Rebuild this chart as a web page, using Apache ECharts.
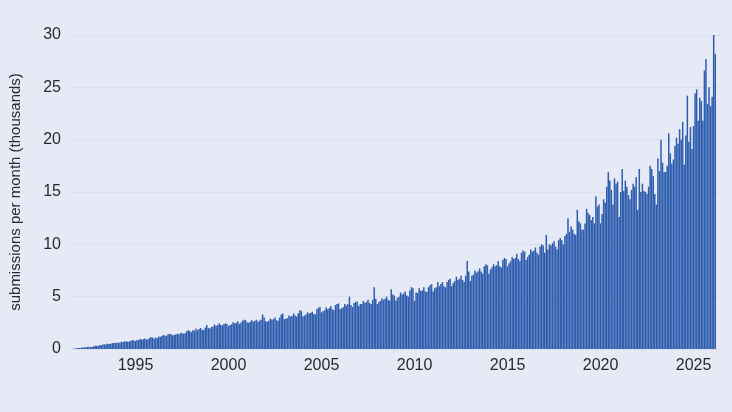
<!DOCTYPE html>
<html>
<head>
<meta charset="utf-8">
<script src="https://cdn.jsdelivr.net/npm/echarts@6/dist/echarts.min.js"></script>
<style>
html,body{margin:0;padding:0;background:#e6e9f6;}
#chart{width:732px;height:412px;}
</style>
</head>
<body>
<div id="chart"></div>
<script>
// Monthly arXiv submissions (thousands), starting Aug 1991
const startYear = 1991, startMonth = 8;
const vals1991_1999 = [
  0.03,0.05,0.08,0.10,0.10,
  0.12,0.14,0.16,0.17,0.20,0.22,0.20,0.19,0.25,0.30,0.30,0.28,
  0.38,0.36,0.42,0.44,0.46,0.50,0.48,0.50,0.55,0.58,0.60,0.57,
  0.62,0.60,0.70,0.66,0.72,0.75,0.70,0.72,0.80,0.85,0.82,0.76,
  0.85,0.84,0.95,0.90,0.93,1.00,0.90,0.92,1.05,1.15,1.10,0.98,
  1.10,1.02,1.20,1.15,1.25,1.35,1.30,1.25,1.40,1.45,1.42,1.30,
  1.35,1.38,1.45,1.40,1.50,1.55,1.45,1.50,1.70,1.78,1.72,1.60,
  1.80,1.75,1.95,1.80,1.90,2.00,1.85,1.80,2.05,2.30,2.00,1.95,
  2.10,2.15,2.35,2.20,2.30,2.45,2.30,2.25,2.40,2.45,2.40,2.20
];
const vals2000_2009 = [
  2.30,2.35,2.55,2.45,2.50,2.65,2.40,2.50,2.70,2.80,2.75,2.55,
  2.50,2.60,2.75,2.60,2.70,2.80,2.60,2.70,2.80,3.30,3.00,2.65,
  2.60,2.70,2.90,2.80,2.85,3.00,2.75,2.70,3.00,3.30,3.40,2.85,
  2.90,2.95,3.20,3.10,3.15,3.40,3.20,3.10,3.40,3.70,3.60,3.10,
  3.20,3.30,3.50,3.40,3.45,3.55,3.35,3.30,3.80,3.95,4.00,3.50,
  3.60,3.70,4.00,3.80,3.90,4.10,3.80,3.70,4.20,4.30,4.35,3.80,
  3.90,4.00,4.30,4.15,4.30,5.00,4.20,4.00,4.40,4.50,4.55,4.10,
  4.30,4.30,4.60,4.40,4.50,4.70,4.40,4.30,4.70,5.90,4.80,4.30,
  4.50,4.60,4.85,4.70,4.80,5.00,4.70,4.60,5.70,5.20,5.10,4.60,
  4.90,5.00,5.40,5.20,5.30,5.50,5.10,5.00,5.60,5.90,5.80,4.60
];
const vals2010_2019 = [
  5.40,5.35,5.80,5.55,5.60,5.90,5.50,5.45,5.90,6.10,6.20,5.50,
  5.80,5.90,6.40,6.00,6.20,6.40,6.00,5.90,6.40,6.60,6.70,6.00,
  6.30,6.50,6.90,6.60,6.70,7.00,6.60,6.40,7.00,8.40,7.40,6.50,
  7.00,7.10,7.50,7.30,7.40,7.70,7.40,7.20,7.90,8.10,8.00,7.20,
  7.60,7.80,8.10,7.90,8.00,8.40,7.90,7.80,8.50,8.70,8.60,7.90,
  8.20,8.40,8.80,8.60,8.70,9.10,8.60,8.40,9.20,9.40,9.30,8.50,
  8.80,9.00,9.50,9.30,9.40,9.70,9.20,9.00,9.80,10.00,9.90,9.20,
  10.90,9.50,10.00,9.90,10.10,10.30,9.80,9.50,10.40,10.60,10.40,10.00,
  10.80,11.00,12.50,11.20,11.70,11.40,11.00,10.90,13.30,12.20,12.00,11.40,
  11.40,12.00,13.40,13.00,12.80,12.30,12.60,12.00,14.60,13.60,13.80,12.00
];
const vals2020_2026 = [
  12.90,14.30,14.00,15.50,16.90,16.10,15.20,13.80,16.30,15.80,16.00,12.60,
  15.00,17.20,15.10,16.10,15.50,14.70,14.30,15.20,15.80,15.50,16.40,13.30,
  17.20,15.00,15.80,15.10,15.00,14.80,15.50,17.50,17.20,16.50,14.80,13.80,
  18.20,17.00,20.00,17.80,16.90,16.90,17.50,20.60,18.70,17.70,18.10,19.40,
  20.20,19.60,21.00,20.00,21.70,17.60,20.40,24.20,19.80,21.20,19.10,21.30,
  24.40,24.80,21.80,24.00,23.70,21.80,26.60,27.70,23.40,25.00,23.20,24.10,
  30.00,28.20
];
const xTickLabels = [1995, 2000, 2005, 2010, 2015, 2020, 2025];
const yTickLabels = [0, 5, 10, 15, 20, 25, 30];

const allVals = vals1991_1999.concat(vals2000_2009, vals2010_2019, vals2020_2026);
const data = allVals.map((v, i) => {
  const mIdx = (startMonth - 1) + i;
  const yr = startYear + Math.floor(mIdx / 12);
  const m = (mIdx % 12) + 1;
  return [yr + m / 12, v];
});

const chart = echarts.init(document.getElementById('chart'), null, {renderer: 'canvas'});
const font = '"Liberation Sans", Arial, sans-serif';
chart.setOption({
  backgroundColor: '#e6e9f6',
  animation: false,
  grid: {left: 63, right: 11, top: 35, bottom: 63, containLabel: false},
  xAxis: {
    type: 'value',
    min: 1991.532,
    max: 2026.476,
    axisLine: {show: false},
    axisTick: {show: false},
    splitLine: {show: false},
    axisLabel: {
      customValues: xTickLabels,
      formatter: v => String(Math.round(v)),
      color: '#2b2b2b', fontSize: 16, fontFamily: font, margin: 9
    }
  },
  yAxis: {
    type: 'value',
    min: 0, max: 30, interval: 5,
    name: 'submissions per month (thousands)',
    nameLocation: 'middle',
    nameGap: 48,
    nameTextStyle: {color: '#2b2b2b', fontSize: 15, fontFamily: font},
    axisLine: {show: false},
    axisTick: {show: false},
    axisLabel: {
      customValues: yTickLabels,
      color: '#2b2b2b', fontSize: 16, fontFamily: font, margin: 10
    },
    splitLine: {lineStyle: {color: '#dbdfef', width: 1}}
  },
  series: [{
    type: 'bar',
    data: data,
    barWidth: 1.5,
    itemStyle: {color: '#2f5dae'},
    large: false
  }]
});
</script>
</body>
</html>
